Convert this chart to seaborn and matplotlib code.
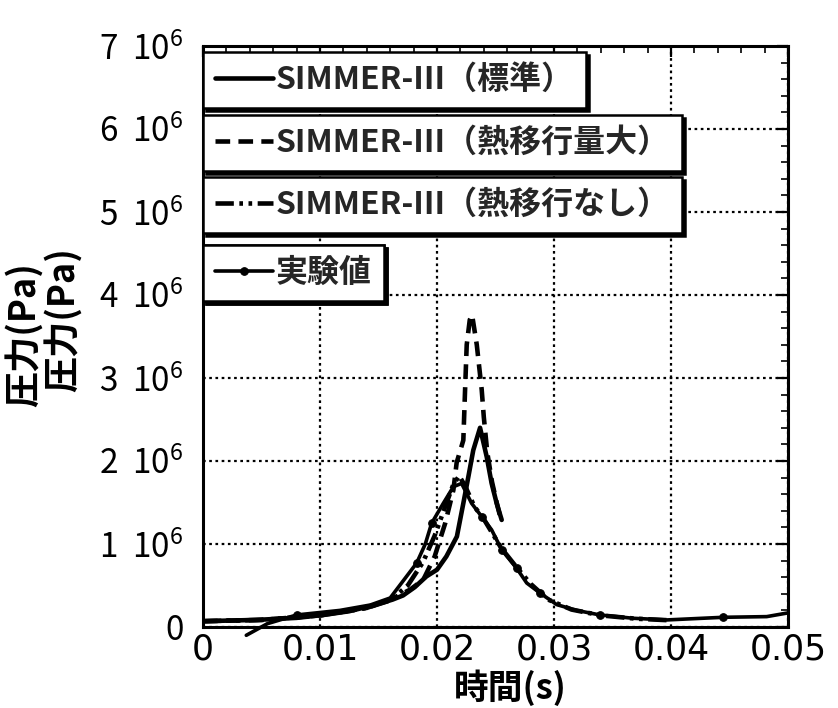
import matplotlib
matplotlib.use("Agg")
import matplotlib.pyplot as plt
from matplotlib.ticker import FixedLocator, FixedFormatter, MultipleLocator
import seaborn as sns
import pandas as pd

# ---- data (time in s, pressure in units of 10^6 Pa) ----
t_std = [0, 0.0045, 0.008, 0.0103, 0.0125, 0.0148, 0.0162, 0.0171, 0.0181, 0.0191,
         0.0200, 0.0208, 0.0217, 0.02225, 0.02268, 0.0231, 0.02368, 0.02425, 0.02467,
         0.0251, 0.02553]
p_std = [0.07, 0.085, 0.11, 0.145, 0.19, 0.27, 0.33, 0.38, 0.48, 0.61,
         0.69, 0.85, 1.09, 1.49, 1.81, 2.13, 2.40, 2.05, 1.73,
         1.49, 1.29]

t_high = [0, 0.005, 0.010, 0.0140, 0.0160, 0.0177, 0.01883, 0.0198, 0.0207, 0.0214,
          0.02168, 0.02225, 0.0224, 0.02254, 0.0228, 0.0230, 0.0234, 0.02382, 0.0240,
          0.0243, 0.0247, 0.0251, 0.0254]
p_high = [0.07, 0.085, 0.14, 0.23, 0.33, 0.45, 0.57, 0.85, 1.25, 1.65,
          1.98, 2.25, 2.86, 3.40, 3.70, 3.76, 3.40, 2.86, 2.53,
          2.10, 1.75, 1.50, 1.33]

t_none = [0, 0.005, 0.010, 0.0140, 0.0160, 0.0175, 0.0188, 0.0198, 0.0207, 0.0214,
          0.0219, 0.0224, 0.0232, 0.0240, 0.0255, 0.0268, 0.0280, 0.0295, 0.0315,
          0.0340, 0.0370, 0.0400]
p_none = [0.07, 0.085, 0.14, 0.23, 0.32, 0.50, 0.78, 1.10, 1.45, 1.72,
          1.82, 1.70, 1.45, 1.30, 0.95, 0.72, 0.52, 0.33, 0.21,
          0.14, 0.10, 0.08]

t_exp = [0.0037, 0.0055, 0.0080, 0.0117, 0.0143, 0.0160, 0.0174, 0.01826, 0.0190,
         0.01954, 0.02054, 0.0214, 0.0221, 0.02296, 0.02382, 0.02467, 0.02553, 0.0268,
         0.02767, 0.0288, 0.03023, 0.03194, 0.03393, 0.03678, 0.03963, 0.04447,
         0.04818, 0.0500]
p_exp = [-0.10, 0.04, 0.145, 0.20, 0.265, 0.35, 0.61, 0.77, 1.0,
         1.25, 1.49, 1.69, 1.73, 1.49, 1.33, 1.17, 0.93, 0.71,
         0.53, 0.41, 0.27, 0.20, 0.145, 0.105, 0.085, 0.117,
         0.125, 0.17]
exp_marker_idx = [2, 7, 9, 14, 16, 17, 19, 22, 25]

labels = ["SIMMER-III（標準）", "SIMMER-III（熱移行量大）",
          "SIMMER-III（熱移行なし）", "実験値"]

x_ticks = [0, 0.01, 0.02, 0.03, 0.04, 0.05]
x_ticklabels = ["0", "0.01", "0.02", "0.03", "0.04", "0.05"]
y_ticks = [0, 1, 2, 3, 4, 5, 6, 7]
y_ticklabels = ["0"] + [f"{k}  10$^{{6}}$" for k in range(1, 8)]

xlabel = "時間(s)"
ylabel = "圧力(Pa)"

# ---- style ----
sns.set_theme(style="white")
plt.rcParams["font.family"] = ["Noto Sans CJK JP", "DejaVu Sans"]
plt.rcParams["mathtext.default"] = "regular"

fig = plt.figure(figsize=(8.38, 7.08), dpi=100)
W, H = 838, 708
ax = fig.add_axes([203 / W, 1 - 627 / H, 585 / W, 581 / H])

lw = 3.3
styles = [
    dict(linestyle="-"),
    dict(linestyle=(0, (3.2, 1.8))),
    dict(linestyle=(0, (4.0, 1.2, 0.8, 1.2, 0.8, 1.2))),
]
series = [(t_std, p_std), (t_high, p_high), (t_none, p_none)]
for (tt, pp), st, lab in zip(series, styles, labels[:3]):
    df = pd.DataFrame({"t": tt, "p": pp})
    sns.lineplot(data=df, x="t", y="p", ax=ax, color="black", lw=lw,
                 sort=False, estimator=None, label=lab, legend=False, **st)

df_exp = pd.DataFrame({"t": t_exp, "p": p_exp})
sns.lineplot(data=df_exp, x="t", y="p", ax=ax, color="black", lw=2.6,
             sort=False, estimator=None, label=labels[3], legend=False,
             marker="o", markersize=5.5, markevery=exp_marker_idx,
             markeredgecolor="black", markerfacecolor="black", clip_on=False)

ax.set_xlim(0, 0.05)
ax.set_ylim(0, 7)

ax.xaxis.set_major_locator(FixedLocator(x_ticks))
ax.xaxis.set_major_formatter(FixedFormatter(x_ticklabels))
ax.xaxis.set_minor_locator(MultipleLocator(0.002))
ax.yaxis.set_major_locator(FixedLocator(y_ticks))
ax.yaxis.set_major_formatter(FixedFormatter(y_ticklabels))
ax.yaxis.set_minor_locator(MultipleLocator(0.2))

ax.tick_params(which="both", direction="in", top=True, right=True,
               color="black", labelcolor="black")
ax.tick_params(which="major", length=8, width=1.6, labelsize=24)
ax.tick_params(which="minor", length=5, width=1.2)
ax.tick_params(axis="x", which="major", pad=4)
ax.tick_params(axis="y", which="major", pad=14)
for lbl in ax.get_xticklabels():
    lbl.set_fontfamily("DejaVu Sans")
    lbl.set_fontsize(25)

for sp in ax.spines.values():
    sp.set_color("black")
    sp.set_linewidth(2.2)

ax.grid(True, which="major", color="black", linestyle=(0, (1.2, 1.6)), lw=1.6)
ax.set_axisbelow(True)

ax.set_xlabel(xlabel, fontsize=25, fontweight="bold", color="black")
ax.xaxis.set_label_coords((510 - 203) / 585, (627 - 688) / 581)
ax.xaxis.label.set_va("center")

ax.set_ylabel(ylabel, fontsize=26, fontweight="bold", color="black")
ax.yaxis.set_label_coords((25 - 203) / 585, (627 - 335) / 581)
ax.yaxis.label.set_va("center")
fig.text(64 / W, 1 - 320 / H, ylabel, rotation=90, fontsize=26,
         fontweight="bold", color="black", ha="center", va="center")

# ---- four separate legend boxes with drop shadows ----
handles = ax.get_lines()
box_tops = [52, 115, 177, 245]
for h, lab, top in zip(handles, labels, box_tops):
    lg = ax.legend([h], [lab], loc="upper left",
                   bbox_to_anchor=(203 / W, 1 - top / H),
                   bbox_transform=fig.transFigure, borderaxespad=0,
                   frameon=True, fancybox=False,
                   shadow={"color": "black", "alpha": 1.0},
                   framealpha=1, edgecolor="black", facecolor="white",
                   prop={"size": 23, "weight": "bold"},
                   handlelength=1.8, handletextpad=0.1, borderpad=0.38,
                   markerscale=1.0)
    lg.get_frame().set_linewidth(1.8)
    ax.add_artist(lg)

fig.savefig("out.png", dpi=100, facecolor="white")
